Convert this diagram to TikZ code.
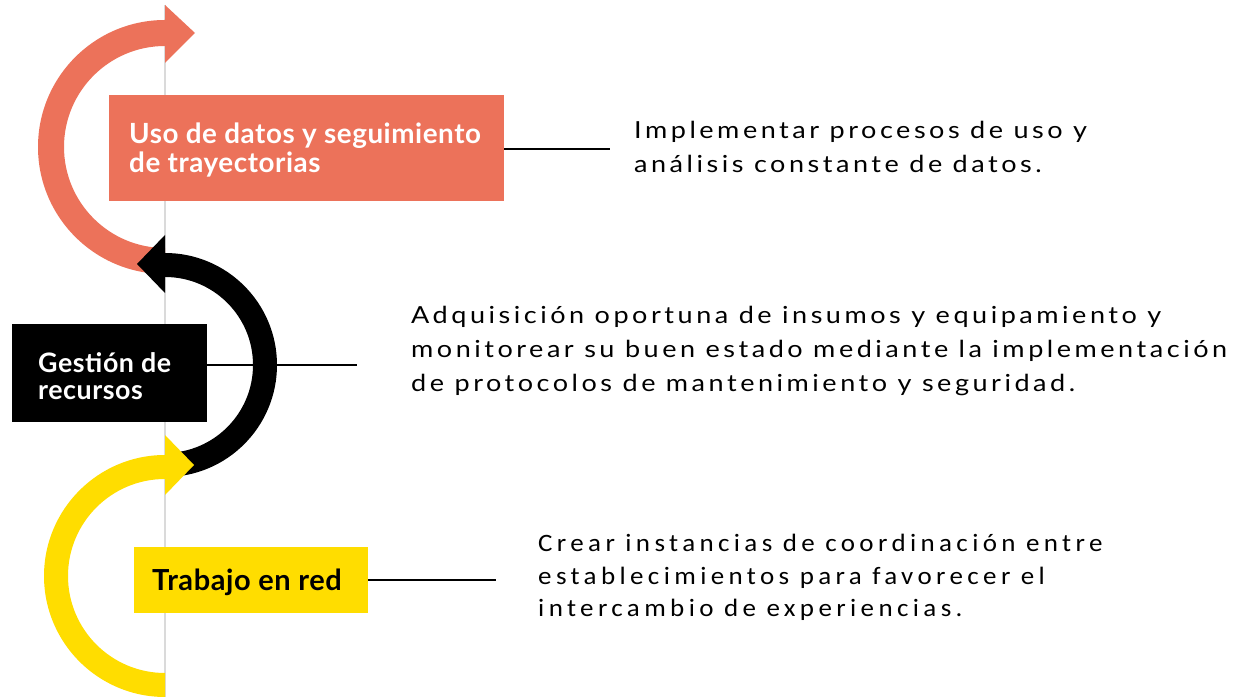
\documentclass[tikz,border=0pt]{standalone}
\usepackage{fontspec}
\setmainfont{Lato}
\newfontfamily\labfont[LetterSpace=2]{Lato Bold}
\newfontfamily\descfont[LetterSpace=15,FakeStretch=1.15]{Lato}
\newfontfamily\desccfont[LetterSpace=17.5,FakeStretch=1.08]{Carlito}
\definecolor{coral}{RGB}{236,114,90}
\definecolor{sun}{RGB}{255,221,0}
\definecolor{guide}{RGB}{218,218,218}
\begin{document}
\begin{tikzpicture}[x=1bp,y=1bp,
  box/.style={inner sep=0pt, anchor=west},
  boxlab/.style={inner sep=0pt, align=left, anchor=west},
  desc/.style={inner sep=0pt, align=left, anchor=base west, font=\descfont\fontsize{23.5bp}{34bp}\selectfont},
  link/.style={line width=1.6bp, black}]
\useasboundingbox (0,0) rectangle (1234,697);
\fill[white] (0,0) rectangle (1234,697);
% guide line
\coordinate (gtop) at (165,692);
\coordinate (gbot) at (165,0);
\draw[guide, line width=1.5bp] (gtop) -- (gbot);
% connector ends
\coordinate (c1) at (610,548);
\coordinate (c2) at (357,332);
\coordinate (c3) at (496,117);
% boxes
\node[box, fill=coral, minimum width=395bp, minimum height=106bp] (b1) at (109,549) {};
\node[box, fill=black, minimum width=195bp, minimum height=98bp] (b2) at (12,324) {};
\node[box, fill=sun, minimum width=234bp, minimum height=66bp] (b3) at (134,117) {};
\node[boxlab, text=white, font=\labfont\fontsize{27.8bp}{29bp}\selectfont] (t1) at ([xshift=20bp,yshift=-2bp]b1.west) {Uso de datos y seguimiento\\de trayectorias};
\node[boxlab, text=white, font=\labfont\fontsize{26.8bp}{27bp}\selectfont] (t2) at ([xshift=26bp,yshift=-3bp]b2.west) {Gestión de\\recursos};
\node[boxlab, text=black, font=\labfont\fontsize{29bp}{29bp}\selectfont] (t3) at ([xshift=18bp,yshift=-2bp]b3.west) {Trabajo en red};
\draw[link] (b1.east |- c1) -- (c1);
\draw[link] (b2.east |- c2) -- (c2);
\draw[link] (b3.east) -- (c3);
% coral arc
\fill[coral] (165,677) arc[start angle=90,end angle=270,radius=127] -- (165,449)
  arc[start angle=270,end angle=90,radius=101] -- cycle;
\fill[coral] (165,692) -- (195,664) -- (165,634) -- cycle;
% black arc
\fill[black] (165,444) arc[start angle=90,end angle=-90,radius=112] -- (165,244)
  arc[start angle=-90,end angle=90,radius=88] -- cycle;
\fill[black] (165,462) -- (137,433) -- (165,404) -- cycle;
% yellow arc
\fill[sun] (165,242) arc[start angle=90,end angle=270,radius=121] -- (165,24)
  arc[start angle=270,end angle=90,radius=97] -- cycle;
\fill[sun] (165,262) -- (194,232) -- (165,202) -- cycle;
% descriptions (anchored at the baseline of the last line)
\node[desc] (d1) at (634,524) {Implementar procesos de uso y\\análisis constante de datos.};
\node[desc] (d2) at (411,305) {Adquisición oportuna de insumos y equipamiento y\\monitorear su buen estado mediante la implementación\\de protocolos de mantenimiento y seguridad.};
\node[desc, font=\desccfont\fontsize{25bp}{32.5bp}\selectfont] (d3) at (538,80) {Crear instancias de coordinación entre\\establecimientos para favorecer el\\intercambio de experiencias.};
\end{tikzpicture}
\end{document}
